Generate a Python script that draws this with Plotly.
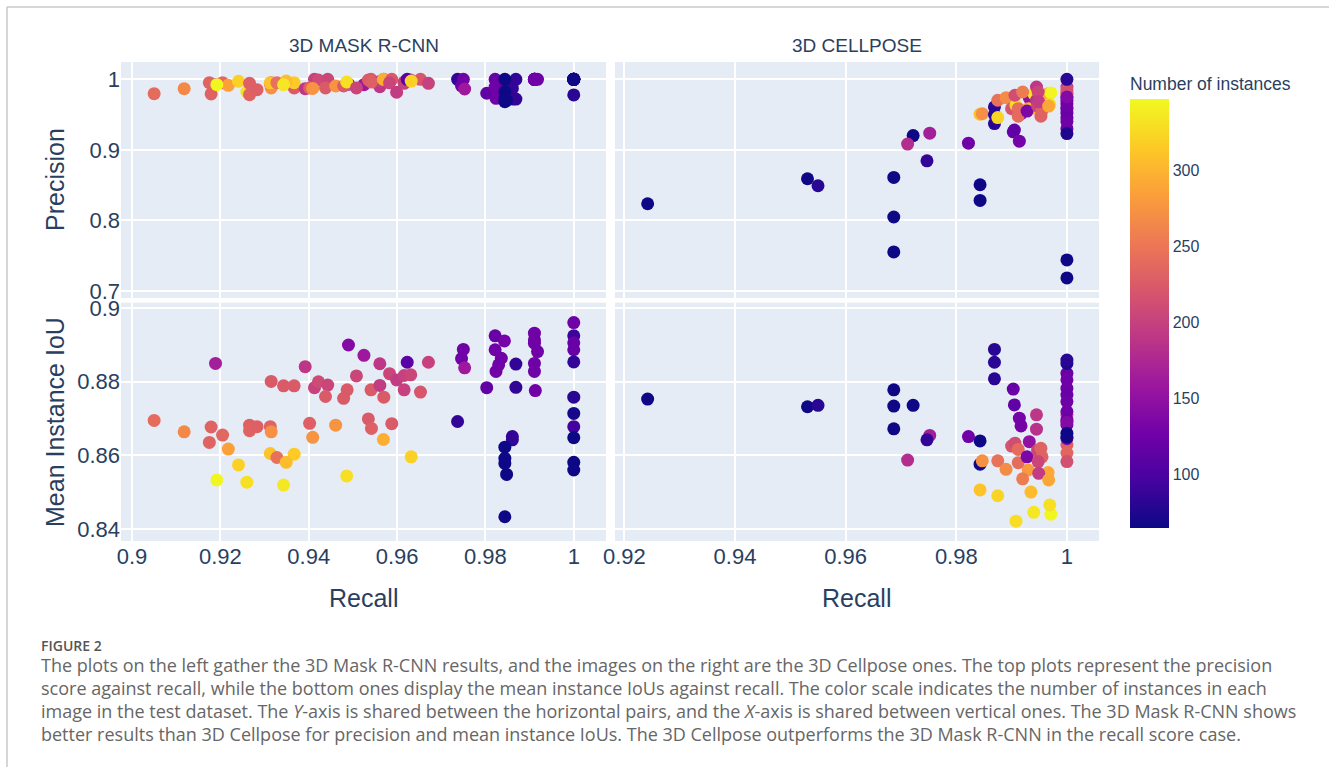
import plotly.graph_objects as go

W, H = 1329, 767

# ---- 3D Mask R-CNN results (one entry per test image) ----
rcnn_recall = [
    0.9050, 0.9118, 0.9189, 0.9179, 0.9175, 0.9205, 0.9218, 0.9192, 0.9241, 0.9260,
    0.9266, 0.9266, 0.9283, 0.9315, 0.9313, 0.9315, 0.9313, 0.9328, 0.9343, 0.9367,
    0.9367, 0.9349, 0.9343, 0.9392, 0.9413, 0.9422, 0.9443, 0.9438, 0.9402, 0.9409,
    0.9461, 0.9490, 0.9487, 0.9479, 0.9486, 0.9525, 0.9508, 0.9561, 0.9541, 0.9561,
    0.9570, 0.9535, 0.9542, 0.9569, 0.9588, 0.9583, 0.9599, 0.9616, 0.9631, 0.9616,
    0.9623, 0.9653, 0.9671, 0.9632, 0.9737, 0.9750, 0.9746, 0.9753, 0.9803, 0.9822,
    0.9843, 0.9822, 0.9836, 0.9830, 0.9824, 0.9869, 0.9869, 0.9861, 0.9861, 0.9844,
    0.9844, 0.9844, 0.9848, 0.9844, 0.9911, 0.9911, 0.9911, 0.9918, 0.9911, 0.9911,
    0.9913, 1.0, 1.0, 1.0, 1.0, 1.0, 1.0, 1.0, 1.0, 1.0, 1.0, 1.0,
]
rcnn_precision = [
    0.9796, 0.9867, 0.9924, 0.9792, 0.9952, 0.9952, 0.9915, 0.9924, 0.9972, 0.9820,
    0.9943, 0.9782, 0.9853, 0.9952, 0.9935, 0.9877, 0.9950, 0.9952, 0.9930, 0.9877,
    0.9952, 0.9976, 0.9924, 0.9867, 1.0, 0.9990, 1.0, 0.9877, 0.9877, 0.9870,
    0.9905, 0.9930, 0.9935, 0.9905, 0.9962, 0.9924, 0.9877, 0.9895, 1.0, 0.9970,
    1.0, 0.9990, 0.9960, 1.0, 1.0, 0.9950, 0.9816, 0.9943, 0.9990, 0.9960,
    1.0, 1.0, 0.9943, 0.9975, 1.0, 1.0, 0.9905, 0.9862, 0.9802, 1.0,
    0.9990, 0.9890, 0.9830, 0.9800, 0.9730, 1.0, 0.9720, 0.9870, 0.9720, 1.0,
    0.9825, 0.9683, 0.9700, 0.9726, 1.0, 1.0, 1.0, 1.0, 1.0, 1.0,
    1.0, 1.0, 1.0, 1.0, 1.0, 1.0, 0.9778, 1.0, 1.0, 1.0, 1.0, 1.0,
]
rcnn_iou = [
    0.8695, 0.8664, 0.8850, 0.8677, 0.8635, 0.8655, 0.8617, 0.8533, 0.8574, 0.8527,
    0.8682, 0.8667, 0.8678, 0.8801, 0.8678, 0.8664, 0.8605, 0.8594, 0.8789, 0.8789,
    0.8603, 0.8581, 0.8519, 0.8841, 0.8784, 0.8800, 0.8791, 0.8760, 0.8687, 0.8649,
    0.8682, 0.8900, 0.8778, 0.8755, 0.8544, 0.8872, 0.8816, 0.8849, 0.8778, 0.8790,
    0.8758, 0.8699, 0.8673, 0.8643, 0.8686, 0.8822, 0.8805, 0.8817, 0.8819, 0.8778,
    0.8853, 0.8772, 0.8853, 0.8596, 0.8692, 0.8888, 0.8863, 0.8838, 0.8784, 0.8925,
    0.8911, 0.8887, 0.8864, 0.8846, 0.8828, 0.8848, 0.8785, 0.8651, 0.8642, 0.8622,
    0.8592, 0.8578, 0.8548, 0.8433, 0.8932, 0.8914, 0.8905, 0.8882, 0.8850, 0.8828,
    0.8776, 0.8961, 0.8925, 0.8906, 0.8887, 0.8854, 0.8758, 0.8714, 0.8678, 0.8648,
    0.8581, 0.8560,
]
rcnn_instances = [
    240, 265, 165, 232, 232, 236, 285, 345, 320, 330,
    230, 232, 230, 225, 232, 272, 310, 245, 225, 225,
    315, 305, 335, 190, 200, 210, 205, 225, 230, 275,
    275, 140, 225, 225, 330, 160, 205, 190, 225, 195,
    225, 225, 230, 295, 225, 205, 195, 200, 205, 200,
    110, 220, 200, 320, 85, 125, 125, 160, 115, 120,
    130, 125, 125, 125, 125, 85, 85, 85, 85, 65,
    65, 65, 65, 65, 125, 125, 125, 125, 125, 125,
    125, 125, 90, 120, 120, 85, 80, 70, 95, 65, 65, 65,
]

# ---- 3D Cellpose results ----
cellpose_recall = [
    0.9242, 0.9531, 0.9550, 0.9687, 0.9687, 0.9687, 0.9722, 0.9712, 0.9752, 0.9747,
    0.9822, 0.9843, 0.9843, 0.9843, 0.9847, 0.9869, 0.9869, 0.9869, 0.9875, 0.9875,
    0.9890, 0.9903, 0.9905, 0.9914, 0.9917, 0.9900, 0.9908, 0.9906, 0.9912, 0.9932,
    0.9930, 0.9940, 0.9945, 0.9950, 0.9912, 0.9920, 0.9966, 0.9971, 0.9969, 0.9935,
    0.9928, 0.9945, 0.9947, 0.9953, 0.9955, 0.9948, 0.9949, 0.9967,
    1.0, 1.0, 1.0, 1.0, 1.0, 1.0, 1.0, 1.0, 1.0, 1.0,
    1.0, 1.0, 1.0, 1.0, 1.0, 1.0, 1.0, 1.0,
]
cellpose_precision = [
    0.8236, 0.8590, 0.8491, 0.8609, 0.8048, 0.7553, 0.9202, 0.9081, 0.9236, 0.8844,
    0.9095, 0.8505, 0.8283, 0.9505, 0.9513, 0.9608, 0.9372, 0.9500, 0.9457, 0.9703,
    0.9740, 0.9255, 0.9280, 0.9123, 0.9513, 0.9584, 0.9632, 0.9774, 0.9584, 0.9736,
    0.9584, 0.9796, 0.9891, 0.9655, 0.9477, 0.9820, 0.9796, 0.9806, 0.9641, 0.9584,
    0.9550, 0.9700, 0.9620, 0.9477, 0.9560, 0.9820, 0.9680, 0.9620,
    0.9890, 0.9800, 0.9655, 0.9600, 0.9520, 0.9300, 0.9700, 0.9580, 0.9450, 0.9750,
    0.9400, 0.9800, 0.9850, 0.9750, 0.7440, 0.7185, 0.9231, 1.0,
]
cellpose_iou = [
    0.8753, 0.8732, 0.8736, 0.8778, 0.8734, 0.8672, 0.8736, 0.8587, 0.8654, 0.8642,
    0.8651, 0.8639, 0.8576, 0.8506, 0.8585, 0.8888, 0.8853, 0.8808, 0.8490, 0.8585,
    0.8562, 0.8780, 0.8737, 0.8701, 0.8680, 0.8625, 0.8421, 0.8633, 0.8616, 0.8637,
    0.8560, 0.8445, 0.8710, 0.8605, 0.8580, 0.8536, 0.8553, 0.8440, 0.8465, 0.8500,
    0.8596, 0.8671, 0.8614, 0.8619, 0.8596, 0.8583, 0.8551, 0.8533,
    0.8710, 0.8628, 0.8823, 0.8805, 0.8782, 0.8764, 0.8746, 0.8719, 0.8696, 0.8683,
    0.8646, 0.8606, 0.8583, 0.8690, 0.8660, 0.8650, 0.8850, 0.8859,
]
cellpose_instances = [
    65, 65, 80, 65, 65, 65, 65, 180, 165, 85,
    125, 65, 65, 310, 272, 80, 80, 80, 322, 245,
    268, 120, 115, 130, 130, 218, 328, 212, 240, 150,
    280, 335, 190, 225, 240, 255, 292, 345, 330, 305,
    135, 185, 205, 232, 232, 205, 195, 290,
    195, 230, 120, 125, 125, 120, 125, 125, 120, 130,
    125, 235, 215, 140, 65, 65, 75, 80,
]

instance_ticks = [100, 150, 200, 250, 300]
recall_ticks_rcnn = [0.9, 0.92, 0.94, 0.96, 0.98, 1.0]
recall_ticks_cellpose = [0.92, 0.94, 0.96, 0.98, 1.0]
precision_ticks = [0.7, 0.8, 0.9, 1.0]
iou_ticks = [0.84, 0.86, 0.88, 0.9]

panel_titles = ["3D MASK R-CNN", "3D CELLPOSE"]
caption_label = "FIGURE 2"
caption_lines = [
    "The plots on the left gather the 3D Mask R-CNN results, and the images on the right are the 3D Cellpose ones. The top plots represent the precision",
    "score against recall, while the bottom ones display the mean instance IoUs against recall. The color scale indicates the number of instances in each",
    "image in the test dataset. The <i>Y</i>-axis is shared between the horizontal pairs, and the <i>X</i>-axis is shared between vertical ones. The 3D Mask R-CNN shows",
    "better results than 3D Cellpose for precision and mean instance IoUs. The 3D Cellpose outperforms the 3D Mask R-CNN in the recall score case.",
]

FONT = "Liberation Sans, Arial, sans-serif"
INK = "#2a3f5f"


def px_x(p):
    return p / W


def px_y(p):
    return 1 - p / H


fig = go.Figure()
panels = [
    (rcnn_recall, rcnn_precision, rcnn_instances, "x", "y"),
    (cellpose_recall, cellpose_precision, cellpose_instances, "x2", "y2"),
    (rcnn_recall, rcnn_iou, rcnn_instances, "x3", "y3"),
    (cellpose_recall, cellpose_iou, cellpose_instances, "x4", "y4"),
]
for xs, ys, cs, xa, ya in panels:
    fig.add_trace(go.Scatter(
        x=xs, y=ys, mode="markers", xaxis=xa, yaxis=ya, showlegend=False,
        marker=dict(size=13, color=cs, coloraxis="coloraxis", line=dict(width=0)),
    ))

left_dom = [px_x(121), px_x(606)]
right_dom = [px_x(615), px_x(1099)]
top_dom = [px_y(298), px_y(62)]
bot_dom = [px_y(541), px_y(302.7)]

rcnn_range = [0.8975, 1.0073]
cellpose_range = [0.9183, 1.0058]
prec_range = [0.690, 1.0245]
iou_range = [0.8367, 0.9015]

axis_common = dict(
    showgrid=True, gridcolor="white", gridwidth=1.5, zeroline=False,
    showline=False, ticks="", automargin=False,
    tickfont=dict(family=FONT, size=22, color=INK),
)
title_font = dict(family=FONT, size=25, color=INK)

fig.update_layout(
    xaxis=dict(domain=left_dom, anchor="y", range=rcnn_range, tickvals=recall_ticks_rcnn,
               showticklabels=False, **axis_common),
    xaxis2=dict(domain=right_dom, anchor="y2", range=cellpose_range, tickvals=recall_ticks_cellpose,
                showticklabels=False, **axis_common),
    xaxis3=dict(domain=left_dom, anchor="y3", range=rcnn_range, tickvals=recall_ticks_rcnn,
                **axis_common),
    xaxis4=dict(domain=right_dom, anchor="y4", range=cellpose_range, tickvals=recall_ticks_cellpose,
                **axis_common),
    yaxis=dict(domain=top_dom, anchor="x", range=prec_range, tickvals=precision_ticks,
               **axis_common),
    yaxis2=dict(domain=top_dom, anchor="x2", range=prec_range, tickvals=precision_ticks,
                showticklabels=False, **axis_common),
    yaxis3=dict(domain=bot_dom, anchor="x3", range=iou_range, tickvals=iou_ticks,
                **axis_common),
    yaxis4=dict(domain=bot_dom, anchor="x4", range=iou_range, tickvals=iou_ticks,
                showticklabels=False, **axis_common),
    coloraxis=dict(
        colorscale="Plasma", cmin=64.5, cmax=346.7,
        colorbar=dict(
            title=dict(text="Number of instances", side="top",
                       font=dict(family=FONT, size=17.5, color=INK)),
            thickness=39, len=454, lenmode="pixels",
            x=px_x(1130), xanchor="left", xpad=0,
            y=px_y(528), yanchor="bottom", ypad=0,
            outlinewidth=0, ticks="", tickvals=instance_ticks,
            tickfont=dict(family=FONT, size=16, color=INK),
        ),
    ),
    plot_bgcolor="#E5ECF6",
    paper_bgcolor="white",
    width=W, height=H, autosize=False,
    margin=dict(l=0, r=0, t=0, b=0, pad=0),
    font=dict(family=FONT, color=INK),
)

annotations = []
for title, dom in zip(panel_titles, [left_dom, right_dom]):
    mid = (dom[0] + dom[1]) / 2
    annotations.append(dict(
        text=title, x=mid, y=px_y(46), xref="paper", yref="paper",
        xanchor="center", yanchor="middle", showarrow=False,
        font=dict(family=FONT, size=19, color=INK),
    ))
    annotations.append(dict(
        text="Recall", x=mid, y=px_y(598), xref="paper", yref="paper",
        xanchor="center", yanchor="middle", showarrow=False, font=title_font,
    ))

for text, ymid in [("Precision", 180), ("Mean Instance IoU", 422)]:
    annotations.append(dict(
        text=text, x=px_x(55), y=px_y(ymid), xref="paper", yref="paper",
        xanchor="center", yanchor="middle", textangle=-90, showarrow=False, font=title_font,
    ))

CAP_FONT = "Open Sans, Noto Sans, sans-serif"
annotations.append(dict(
    text=caption_label, x=px_x(39), y=px_y(645), xref="paper", yref="paper",
    xanchor="left", yanchor="middle", showarrow=False,
    font=dict(family=CAP_FONT, size=14, color="#555555", weight=600),
))
for i, line in enumerate(caption_lines):
    annotations.append(dict(
        text=line, x=px_x(39), y=px_y(665 + 23 * i), xref="paper", yref="paper",
        xanchor="left", yanchor="middle", showarrow=False,
        font=dict(family=CAP_FONT, size=18, color="#666666"),
    ))
fig.update_layout(annotations=annotations)

# thin frame lines along the top and left edges
fig.add_shape(type="line", xref="paper", yref="paper", x0=px_x(7), x1=1, y0=px_y(7), y1=px_y(7),
              line=dict(color="#c8c8c8", width=1.5))
fig.add_shape(type="line", xref="paper", yref="paper", x0=px_x(7), x1=px_x(7), y0=0, y1=px_y(7),
              line=dict(color="#c8c8c8", width=1.5))

fig.write_html("out.html")
